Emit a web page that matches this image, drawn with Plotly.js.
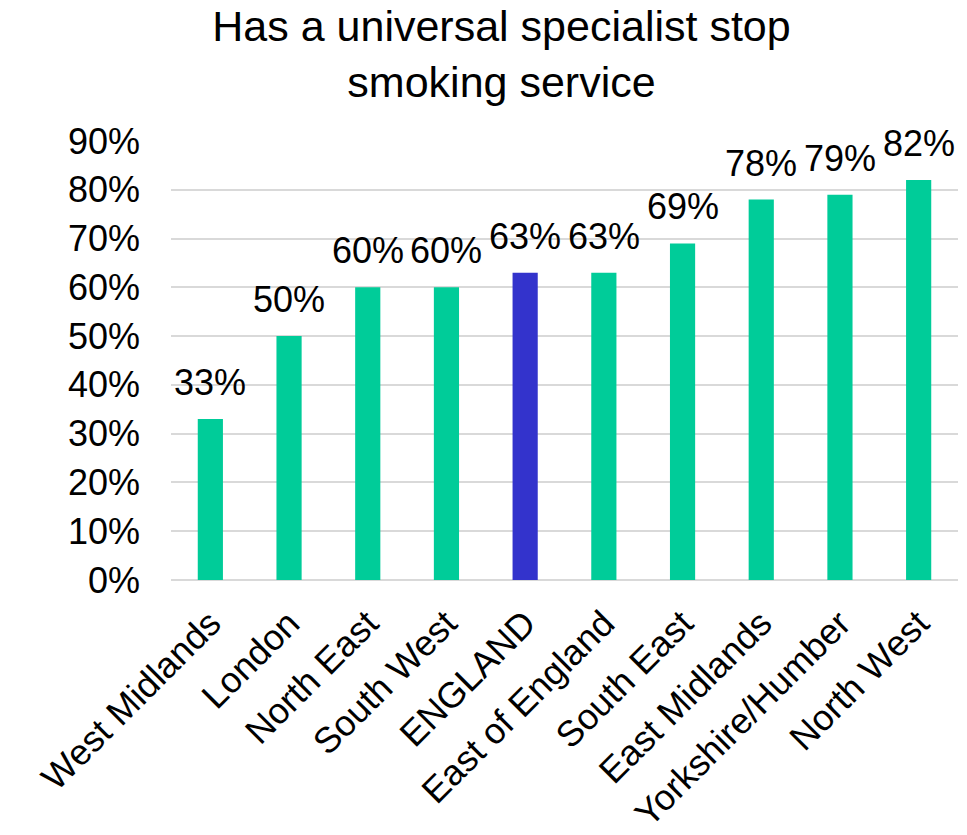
<!DOCTYPE html>
<html>
<head>
<meta charset="utf-8">
<script src="https://cdn.plot.ly/plotly-3.0.1.min.js"></script>
<style>html,body{margin:0;padding:0;background:#fff;}#chart{width:967px;height:835px;}</style>
</head>
<body>
<div id="chart"></div>
<script>
const categories = ["West Midlands", "London", "North East", "South West", "ENGLAND", "East of England", "South East", "East Midlands", "Yorkshire/Humber", "North West"];
const values = [0.33, 0.50, 0.60, 0.60, 0.63, 0.63, 0.69, 0.78, 0.79, 0.82];
const highlight = "ENGLAND";
const titleText = "Has a universal specialist stop<br>smoking service";

const colors = categories.map(c => c === highlight ? "#3333CC" : "#00CC99");
const font = "Liberation Sans, Arial, sans-serif";

const annotations = categories.map((c, i) => ({
  x: c, y: values[i], xref: "x", yref: "y",
  text: Math.round(values[i] * 100) + "%",
  showarrow: false, yanchor: "bottom", yshift: 14,
  font: {family: font, size: 36, color: "#000"}
}));

const data = [{
  type: "bar",
  x: categories,
  y: values,
  marker: {color: colors},
  hoverinfo: "skip"
}];

const layout = {
  width: 967, height: 835,
  margin: {l: 171, r: 9, t: 141, b: 255},
  paper_bgcolor: "#fff", plot_bgcolor: "#fff",
  bargap: 0.68,
  showlegend: false,
  title: {
    text: titleText,
    font: {family: font, size: 43, color: "#000"},
    xref: "container", x: 0.5186, xanchor: "center",
    yref: "container", y: 0.951, yanchor: "middle"
  },
  xaxis: {
    type: "category",
    tickangle: -45,
    tickfont: {family: font, size: 36, color: "#000"},
    showgrid: false, zeroline: false, showline: false,
    ticks: "", ticklabelstandoff: 14
  },
  yaxis: {
    range: [0, 0.9],
    dtick: 0.1,
    tick0: 0,
    tickformat: ".0%",
    tickfont: {family: font, size: 36, color: "#000"},
    showgrid: true, gridcolor: "#d9d9d9", gridwidth: 2,
    zeroline: true, zerolinecolor: "#d9d9d9", zerolinewidth: 2,
    showline: false, ticks: "", ticklabelstandoff: 30
  },
  annotations: annotations
};

Plotly.newPlot("chart", data, layout, {displayModeBar: false, staticPlot: true});
</script>
</body>
</html>
